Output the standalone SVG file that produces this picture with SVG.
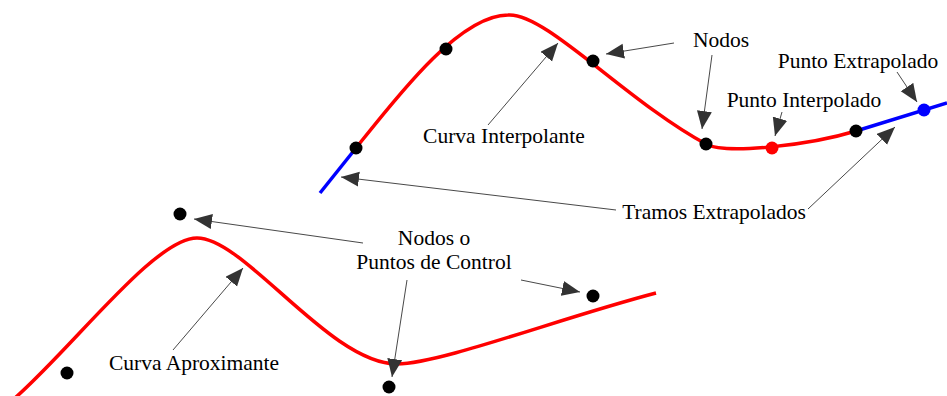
<svg xmlns="http://www.w3.org/2000/svg" width="947" height="396" viewBox="0 0 947 396">
<style>
text{font-family:'Liberation Serif','Times New Roman','DejaVu Serif',serif;font-size:21.5px;fill:#000;text-anchor:middle}
.red{fill:none;stroke:#f00;stroke-width:3.5}
.blue{fill:none;stroke:#00f;stroke-width:3.5}
.arr{fill:none;stroke:#333;stroke-width:0.9;marker-end:url(#ah)}
</style>
<defs>
<marker id="ah" markerUnits="userSpaceOnUse" markerWidth="19" markerHeight="16" refX="18" refY="7.5" orient="auto">
<path d="M0,0 L18,7.5 L0,15 z" fill="#333"/>
</marker>
</defs>
<rect width="947" height="396" fill="#fff"/>
<g id="curves">
<path class="blue" d="M320,193 L356,148"/>
<path class="red" d="M356,148 C399,94 460,15 508,15 C545,12 625,100 706,144 C726,155 810,145 856,131"/>
<path class="blue" d="M856,131 L947,103"/>
<path class="red" d="M15,398 C75,345 155,238 197,238 C245,238 330,364 397,364 C440,364 560,318 656,293"/>
</g>
<g id="nodes-top">
<circle cx="356" cy="148" r="6.5"/>
<circle cx="446" cy="49" r="6.5"/>
<circle cx="593" cy="61" r="6.5"/>
<circle cx="706" cy="144" r="6.5"/>
<circle cx="856" cy="131" r="6.5"/>
</g>
<g id="punto-interpolado-dot"><circle cx="772" cy="148" r="6.5" fill="#f00"/></g>
<g id="punto-extrapolado-dot"><circle cx="924" cy="110" r="6.5" fill="#00f"/></g>
<g id="nodes-bottom">
<circle cx="67" cy="373" r="6.5"/>
<circle cx="180" cy="214" r="6.5"/>
<circle cx="389" cy="387" r="6.5"/>
<circle cx="593" cy="296" r="6.5"/>
</g>
<g id="connectors">
<line class="arr" x1="674" y1="43" x2="606" y2="54"/>
<line class="arr" x1="712" y1="55" x2="702" y2="129"/>
<line class="arr" x1="782" y1="112" x2="775" y2="136"/>
<line class="arr" x1="897" y1="72" x2="917" y2="102"/>
<line class="arr" x1="808" y1="209" x2="895" y2="127"/>
<line class="arr" x1="616" y1="210" x2="341" y2="177"/>
<line class="arr" x1="488" y1="125" x2="558" y2="43"/>
<line class="arr" x1="363" y1="243" x2="194" y2="219"/>
<line class="arr" x1="407" y1="280" x2="392" y2="377"/>
<line class="arr" x1="521" y1="280" x2="580" y2="292"/>
<line class="arr" x1="173" y1="350" x2="243" y2="268"/>
</g>
<g id="label-nodos"><text x="721" y="47">Nodos</text></g>
<g id="label-punto-extrapolado"><text x="858" y="68">Punto Extrapolado</text></g>
<g id="label-punto-interpolado"><text x="804" y="107">Punto Interpolado</text></g>
<g id="label-curva-interpolante"><text x="504" y="143">Curva Interpolante</text></g>
<g id="label-tramos"><text x="714" y="219">Tramos Extrapolados</text></g>
<g id="label-nodos-control"><text x="434" y="245">Nodos o</text><text x="434" y="269">Puntos de Control</text></g>
<g id="label-curva-aprox"><text x="194" y="370">Curva Aproximante</text></g>
</svg>
